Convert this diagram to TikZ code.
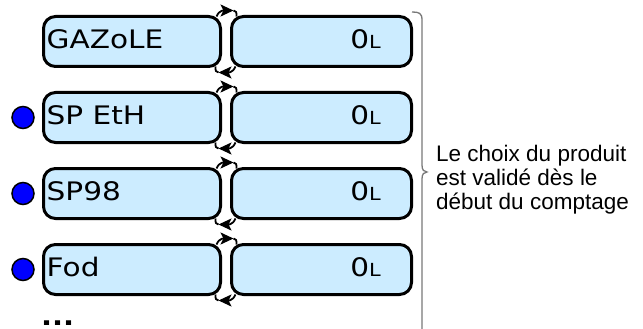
\documentclass[tikz,border=0pt]{standalone}
\usepackage{fontspec}
\setmainfont{Liberation Sans}
\newfontfamily\boxfont[FakeStretch=1.16]{DejaVu Sans}
\usetikzlibrary{arrows.meta}
\definecolor{boxblue}{RGB}{204,236,255}
\definecolor{bracegrey}{RGB}{120,120,120}
\begin{document}
\begin{tikzpicture}[x=1pt,y=-1pt,
  prodbox/.style={draw=black,line width=3pt,fill=boxblue,rounded corners=12pt,
    minimum height=50pt,inner sep=0pt,outer sep=0pt},
  leftbox/.style={prodbox,minimum width=177pt},
  rightbox/.style={prodbox,minimum width=180pt},
  nametext/.style={anchor=base west,inner sep=0pt,font=\boxfont\fontsize{25.5}{30}\selectfont},
  valtext/.style={anchor=base east,inner sep=0pt,font=\boxfont\fontsize{25.5}{30}\selectfont},
  arrowline/.style={line width=1.8pt,-{Stealth[length=13pt,width=12pt,inset=3pt]}},
  plainline/.style={line width=1.8pt},
  seldot/.style={circle,draw=black,line width=1.5pt,fill=blue,minimum size=22pt,inner sep=0pt},
  notetext/.style={anchor=base west,inner sep=0pt,font=\fontsize{22.5}{24}\selectfont},
]
\useasboundingbox (0,0) rectangle (643,329);
\foreach \i/\name in {1/GAZoLE,2/SP EtH,3/SP98,4/Fod}{
  \pgfmathsetmacro{\yc}{41.5+76*(\i-1)}
  \node[leftbox] (L\i) at (132,\yc) {};
  \node[rightbox] (R\i) at (321.5,\yc) {};
  \node[nametext] (N\i) at (46.5,\yc+7) {\name};
  \node[valtext] (V\i) at (381,\yc+7) {0{\fontsize{18}{20}\selectfont L}};
  \coordinate (TA\i) at ([xshift=2pt,yshift=6pt]R\i.north west);
  \coordinate (BA\i) at ([xshift=-2pt,yshift=-6pt]L\i.south east);
  \draw[arrowline] ([xshift=-4pt]L\i.north east) .. controls +(3,-7) and +(-9,0) .. (TA\i);
  \draw[plainline] (TA\i) .. controls +(3,0) and +(0,-4) .. ([xshift=5pt]R\i.north west);
  \draw[arrowline] ([xshift=4pt]R\i.south west) .. controls +(-3,7) and +(9,0) .. (BA\i);
  \draw[plainline] (BA\i) .. controls +(-3,0) and +(0,4) .. ([xshift=-5pt]L\i.south east);
}
\foreach \i in {2,3,4}{
  \node[seldot] (D\i) at (23,{41.5+76*(\i-1)}) {};
}
\node[anchor=base west,inner sep=0pt,font=\boxfont\bfseries\fontsize{25}{30}\selectfont] (more) at (41,325) {...};
\coordinate (bt) at (412,12);
\coordinate (btip) at (427,172);
\coordinate (bb) at (422,340);
\draw[bracegrey,line width=1.3pt] (bt) .. controls (419,12) and (422,13) .. (422,20) -- (422,165)
  .. controls (422,170) and (424,172) .. (btip) .. controls (424,172) and (422,174) .. (422,179) -- (bb);
\node[notetext] (n1) at (436,161) {Le choix du produit};
\node[notetext] (n2) at (436,185) {est validé dès le};
\node[notetext] (n3) at (436,209) {début du comptage};
\end{tikzpicture}
\end{document}
